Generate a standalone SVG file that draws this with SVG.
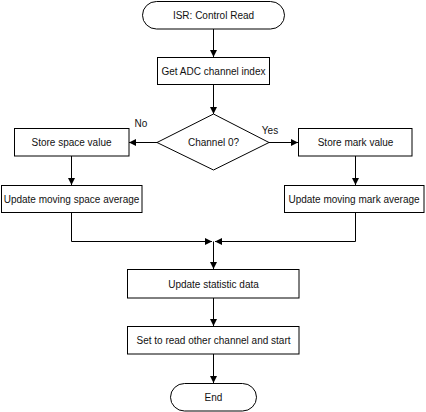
<svg xmlns="http://www.w3.org/2000/svg" width="426" height="412" viewBox="0 0 426 412">
<defs>
<marker id="ah" viewBox="0 0 10 10" refX="10" refY="5" markerWidth="8" markerHeight="7" markerUnits="userSpaceOnUse" orient="auto">
<path d="M0,0 L10,5 L0,10 z" fill="#000"/>
</marker>
<style>
.s{fill:#fff;stroke:#000;stroke-width:1}
.t{font-family:"Liberation Sans",Arial,sans-serif;font-size:10px;fill:#111;text-anchor:middle;dominant-baseline:central}
.c{fill:none;stroke:#000;stroke-width:1;marker-end:url(#ah)}
</style>
</defs>
<rect width="426" height="412" fill="#fff"/>
<g id="connectors">
<path class="c" d="M213.5,29 V57"/>
<path class="c" d="M213.5,85 V114"/>
<path class="c" d="M157,142.5 H129"/>
<path class="c" d="M269,142.5 H298"/>
<path class="c" d="M71.5,156 V185"/>
<path class="c" d="M355.5,156 V185"/>
<path class="c" d="M71.5,212 V241.5 H212"/>
<path class="c" d="M355.5,212 V241.5 H215"/>
<path class="c" d="M213.5,241.5 V269"/>
<path class="c" d="M213.5,298 V326"/>
<path class="c" d="M213.5,354 V383"/>
<text class="t" x="141" y="123">No</text>
<text class="t" x="270" y="130">Yes</text>
</g>
<g id="start">
<rect class="s" x="142.5" y="1.5" width="142" height="27.5" rx="14" ry="13.75"/>
<text class="t" x="213.5" y="15">ISR: Control Read</text>
</g>
<g id="getadc">
<rect class="s" x="157.5" y="57.5" width="112" height="27"/>
<text class="t" x="213.5" y="71">Get ADC channel index</text>
</g>
<g id="decision">
<polygon class="s" points="213.5,114 269,142.5 213.5,170 157,142.5"/>
<text class="t" x="213.5" y="142.5">Channel 0?</text>
</g>
<g id="storespace">
<rect class="s" x="14.5" y="128.5" width="114.5" height="27.5"/>
<text class="t" x="71.5" y="142">Store space value</text>
</g>
<g id="storemark">
<rect class="s" x="298.5" y="128.5" width="113.5" height="27.5"/>
<text class="t" x="355.5" y="142">Store mark value</text>
</g>
<g id="avgspace">
<rect class="s" x="1.5" y="185.5" width="140.5" height="27"/>
<text class="t" x="71.5" y="199">Update moving space average</text>
</g>
<g id="avgmark">
<rect class="s" x="284.5" y="185.5" width="139.5" height="27"/>
<text class="t" x="354" y="199">Update moving mark average</text>
</g>
<g id="stat">
<rect class="s" x="127.5" y="269.5" width="171.5" height="28.5"/>
<text class="t" x="213.5" y="284">Update statistic data</text>
</g>
<g id="setread">
<rect class="s" x="127.5" y="326.5" width="171.5" height="27.5"/>
<text class="t" x="213.5" y="340">Set to read other channel and start</text>
</g>
<g id="end">
<rect class="s" x="170.5" y="383.5" width="86" height="27.5" rx="14" ry="13.75"/>
<text class="t" x="213.5" y="397">End</text>
</g>
</svg>
